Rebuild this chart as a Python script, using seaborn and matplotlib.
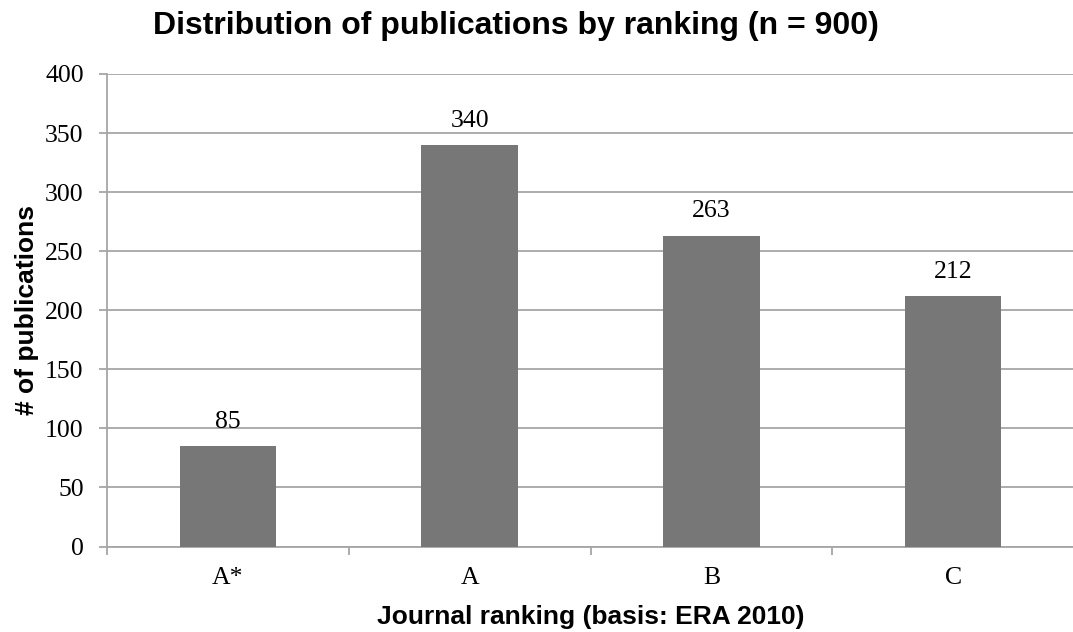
import matplotlib
matplotlib.use("Agg")
import matplotlib.pyplot as plt
import seaborn as sns
import pandas as pd

categories = ["A*", "A", "B", "C"]
counts = [85, 340, 263, 212]
yticks = [0, 50, 100, 150, 200, 250, 300, 350, 400]

sns.set_theme(style="white")
plt.rcParams['font.family'] = ['Liberation Serif', 'DejaVu Serif']
plt.rcParams['text.color'] = 'black'

df = pd.DataFrame({"ranking": categories, "count": counts})

fig = plt.figure(figsize=(10.73, 6.32), dpi=100)
ax = fig.add_axes([107/1073, 1 - 546.5/632, (1074-107)/1073, (546.5-74)/632])

grid_c = "#A6A6A6"
sns.barplot(data=df, x="ranking", y="count", color="#777777", width=0.4,
            saturation=1, ax=ax, zorder=3, edgecolor="none")

ax.set_ylim(0, 400)
ax.set_xlim(-0.5, 3.5)
ax.set_yticks(yticks)
ax.set_yticklabels([str(t) for t in yticks], fontsize=18.5, color="black")
ax.yaxis.grid(True, color=grid_c, linewidth=1.3, zorder=0)
ax.set_axisbelow(True)

# category labels, with tick marks between categories
ax.set_xticks([0, 1, 2, 3])
ax.set_xticklabels(categories, fontsize=18.5, color="black")
ax.tick_params(axis="x", length=0, pad=15)
ax.set_xticks([-0.5, 0.5, 1.5, 2.5, 3.5], minor=True)
ax.tick_params(axis="x", which="minor", length=5.5, width=1.3, color=grid_c,
               direction="out", bottom=True)
ax.tick_params(axis="y", length=5.8, width=1.3, color=grid_c, direction="out",
               left=True, pad=11)

for s in ["top", "right"]:
    ax.spines[s].set_visible(False)
for s in ["left", "bottom"]:
    ax.spines[s].set_color(grid_c)
    ax.spines[s].set_linewidth(1.3)

for i, v in enumerate(counts):
    ax.annotate(str(v), (i, v), xytext=(0, 13.2), textcoords="offset points",
                ha="center", va="baseline", fontsize=18.5, color="black")

sans = ["Liberation Sans", "DejaVu Sans"]
ax.set_xlabel("Journal ranking (basis: ERA 2010)", fontsize=19, fontweight="bold",
              family=sans, color="black")
ax.xaxis.label.set_va("baseline")
ax.xaxis.set_label_coords(0.5, -(624 - 546.5) / 472.5)
ax.set_ylabel("# of publications", fontsize=19, fontweight="bold",
              family=sans, color="black")
ax.yaxis.label.set_va("center")
ax.yaxis.set_label_coords((27 - 107) / 967, 0.5)

fig.text(516 / 1073, 1 - 34 / 632, "Distribution of publications by ranking (n = 900)",
         ha="center", va="baseline", fontsize=23, fontweight="bold",
         family=sans, color="black")

fig.savefig("out.png", dpi=100, facecolor="white")
